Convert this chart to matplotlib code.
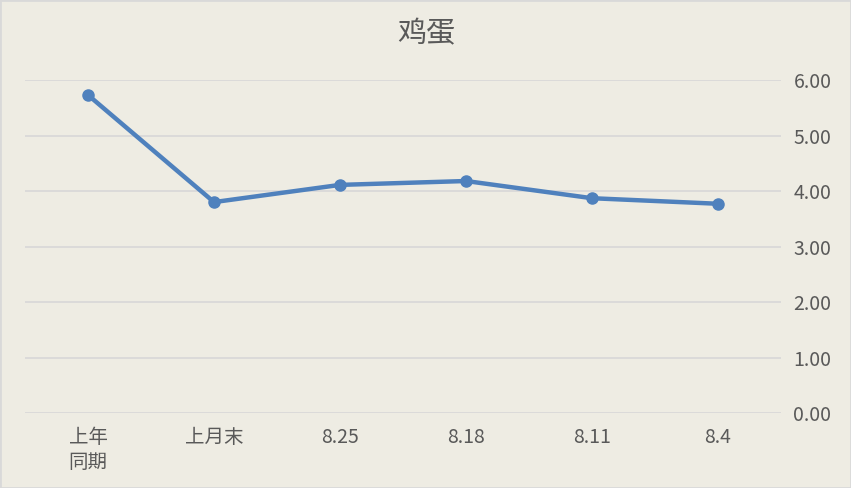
import matplotlib
matplotlib.use("Agg")
import matplotlib.pyplot as plt
from matplotlib.patches import Rectangle

plt.rcParams['font.family'] = ['Noto Sans CJK SC', 'DejaVu Sans']

categories = ['上年\n同期', '上月末', '8.25', '8.18', '8.11', '8.4']
values = [5.73, 3.80, 4.11, 4.18, 3.87, 3.77]
yticks = [0, 1, 2, 3, 4, 5, 6]
title = '鸡蛋'

W, H = 851, 488
fig = plt.figure(figsize=(W / 100, H / 100), dpi=100)
bg = '#EEECE3'
fig.patch.set_facecolor(bg)
fig.patches.append(Rectangle((0, 0), 1, 1, transform=fig.transFigure,
                             fill=False, edgecolor='#D9D9D9', linewidth=2))

ax = fig.add_axes([25 / W, 75 / H, 756 / W, 333 / H])
ax.set_facecolor(bg)
x = list(range(len(categories)))
ax.plot(x, values, color='#4F81BD', linewidth=3.2, marker='o', markersize=8,
        zorder=3)
ax.set_xlim(-0.5, len(categories) - 0.5)
ax.set_ylim(0, 6)
ax.set_yticks(yticks)
ax.set_yticklabels([f'{v:.2f}' for v in yticks])
ax.yaxis.tick_right()
ax.grid(axis='y', color='#D9D9D9', linewidth=1.3)
ax.set_axisbelow(True)
ax.set_xticks(x)
ax.set_xticklabels(categories, linespacing=1.25)
ax.tick_params(axis='both', length=0, labelsize=14, colors='#595959')
ax.tick_params(axis='x', pad=10)
ax.tick_params(axis='y', pad=9)
for s in ax.spines.values():
    s.set_visible(False)

fig.text(426 / W, 1 - 34 / H, title, ha='center', va='center', fontsize=21,
         color='#595959')

fig.savefig('out.png', dpi=100, facecolor=bg)
